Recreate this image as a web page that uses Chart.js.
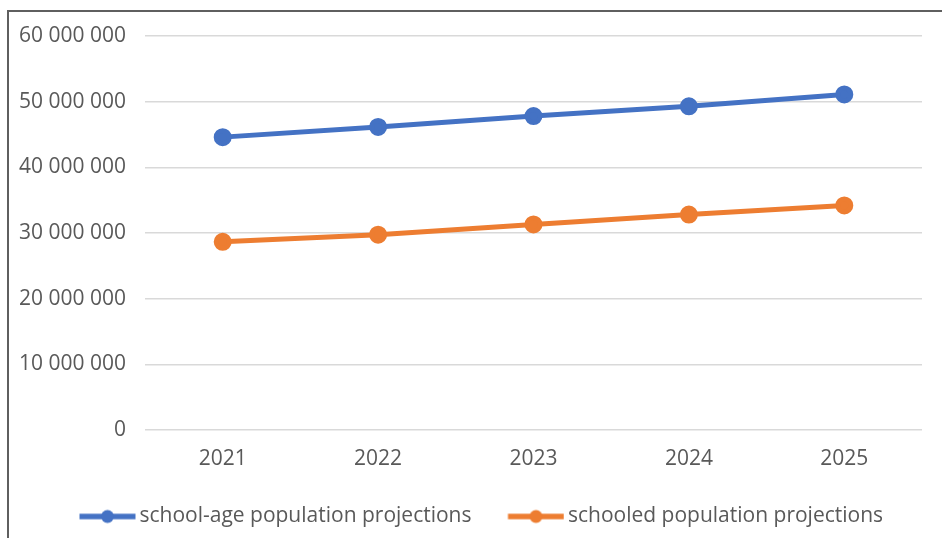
<!DOCTYPE html>
<html>
<head>
<meta charset="utf-8">
<script src="https://cdn.jsdelivr.net/npm/chart.js@4.4.1/dist/chart.umd.min.js"></script>
<style>
  html, body { margin: 0; padding: 0; background: #fff; overflow: hidden; }
  #frame { position: absolute; left: 7px; top: 10px; width: 1000px; height: 600px; border: 2px solid #5f5f5f; }
  #wrap { position: absolute; left: 0; top: 0; width: 942px; height: 538px; }
</style>
</head>
<body>
<div id="frame"></div>
<div id="wrap"><canvas id="myChart" width="942" height="538"></canvas></div>
<script>
// chart data
const years = ['2021', '2022', '2023', '2024', '2025'];
const school_age = [44600000, 46150000, 47800000, 49300000, 51100000];
const schooled = [28650000, 29750000, 31300000, 32800000, 34200000];
const series_names = ['school-age population projections', 'schooled population projections'];
const series_colors = ['#4472C4', '#ED7D31'];

const FONT = 'Open Sans';
const FSIZE = 21;
const BOX = 74;   // legend box width
const EXT = 7;    // legend mark overhang each side

// line+dot image for the legend, line sits close to the text
function legendMark(color){
    const c = document.createElement('canvas');
    c.width = BOX + EXT * 2; c.height = 16;
    const g = c.getContext('2d');
    const end = EXT + BOX + FSIZE / 2 - 4;
    const start = end - 56;
    g.strokeStyle = color;
    g.lineWidth = 5.5;
    g.beginPath(); g.moveTo(start, 8); g.lineTo(end, 8); g.stroke();
    g.fillStyle = color;
    g.beginPath(); g.arc((start + end) / 2, 8, 6.5, 0, Math.PI * 2); g.fill();
    return c;
}

function fmt(v){
    return String(v).replace(/\B(?=(\d{3})+(?!\d))/g, ' ');
}

// nudge the legend row a bit to the right, like the original
const shiftLegend = {
    id: 'shiftLegend',
    afterLayout: function(chart){
        chart.legend.left += 8;
        chart.legend.right += 8;
    }
};

const ctx = document.getElementById('myChart');
const myChart = new Chart(ctx, {
    type: 'line',
    data: {
        labels: years,
        datasets: [{
            label: series_names[0],
            data: school_age,
            borderColor: series_colors[0],
            backgroundColor: series_colors[0],
            borderWidth: 5,
            pointRadius: 6.5,
            tension: 0
        }, {
            label: series_names[1],
            data: schooled,
            borderColor: series_colors[1],
            backgroundColor: series_colors[1],
            borderWidth: 5,
            pointRadius: 6.5,
            tension: 0
        }]
    },
    plugins: [shiftLegend],
    options: {
        responsive: false,
        animation: false,
        layout: { padding: { left: 0, right: 20, top: 36, bottom: 1 } },
        plugins: {
            tooltip: { enabled: false },
            legend: {
                position: 'bottom',
                labels: {
                    usePointStyle: true,
                    pointStyleWidth: BOX,
                    color: '#595959',
                    font: { family: FONT, size: FSIZE },
                    padding: 12,
                    generateLabels: function(chart){
                        return chart.data.datasets.map(function(ds, i){
                            return {
                                text: ds.label,
                                pointStyle: legendMark(series_colors[i]),
                                fontColor: '#595959',
                                datasetIndex: i,
                                lineWidth: 0
                            };
                        });
                    }
                }
            }
        },
        scales: {
            y: {
                min: 0,
                max: 60000000,
                ticks: {
                    stepSize: 10000000,
                    color: '#595959',
                    font: { family: FONT, size: FSIZE },
                    padding: 19,
                    callback: function(v){ return fmt(v); }
                },
                grid: { color: '#d9d9d9', lineWidth: 1.5, drawTicks: false },
                border: { display: false },
                afterFit: function(scale){ scale.width = 145; }
            },
            x: {
                offset: true,
                ticks: {
                    color: '#595959',
                    font: { family: FONT, size: FSIZE },
                    padding: 8
                },
                grid: { display: false },
                border: { display: false },
                afterFit: function(scale){ scale.height = 64; }
            }
        }
    }
});
</script>
</body>
</html>
